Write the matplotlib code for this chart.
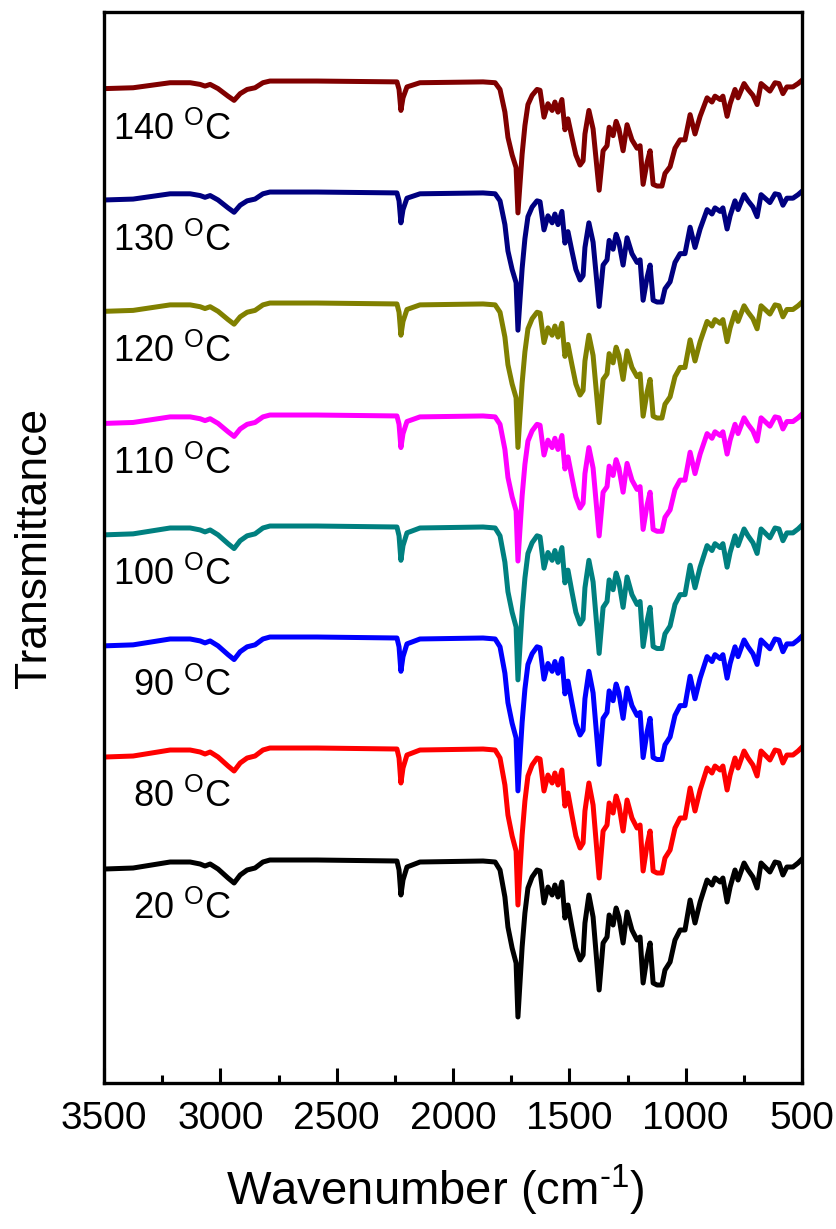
"""
FTIR spectra at different temperatures, stacked with a vertical offset.
"""

import numpy as np
import matplotlib
matplotlib.use("Agg")
import matplotlib.pyplot as plt
from matplotlib.ticker import MultipleLocator

# === DATA ===
# base spectrum (20 C sample); transmittance in arbitrary units
wavenumber = [3496, 3375, 3216, 3130, 3087, 3066, 3044, 3010, 2967, 2941, 2915, 2885,
              2851, 2817, 2787, 2585, 2241, 2232, 2224, 2215, 2198, 2142, 1871, 1819,
              1798, 1777, 1764, 1746, 1729, 1721, 1703, 1691, 1678, 1660, 1639, 1626,
              1609, 1592, 1574, 1562, 1549, 1532, 1519, 1506, 1489, 1472, 1454, 1441,
              1433, 1416, 1398, 1372, 1355, 1338, 1329, 1312, 1299, 1287, 1269, 1252,
              1231, 1209, 1196, 1183, 1166, 1153, 1140, 1123, 1102, 1089, 1067, 1046,
              1024, 1003, 981, 960, 938, 908, 887, 874, 852, 840, 822, 809, 788, 775,
              749, 732, 711, 693, 676, 659, 638, 616, 599, 582, 565, 539, 517, 504]
transmittance = [-9, -8, -2, -2, -4, -6, -4, -9, -18, -23, -15, -10,
                 -8, -2, 0, 0, -1, -10, -35, -20, -7, -2, -1, -2,
                 -10, -37, -67, -88, -103, -157, -87, -53, -28, -17, -10, -11,
                 -43, -27, -35, -25, -37, -22, -58, -45, -67, -88, -100, -95,
                 -63, -35, -57, -130, -83, -77, -55, -65, -48, -57, -83, -52,
                 -70, -80, -77, -123, -97, -83, -123, -125, -125, -110, -102, -80,
                 -70, -70, -40, -63, -42, -20, -25, -18, -22, -18, -42, -27, -10, -20,
                 -3, -10, -17, -28, -3, -7, -12, -2, -3, -15, -7, -7, -3, 0]

temps = [20, 80, 90, 100, 110, 120, 130, 140]
offsets = [0, 112, 223, 334, 445, 557, 668, 779]
depth_scale = [1.0, 1.0, 0.98, 0.98, 0.93, 0.92, 0.88, 0.84]
colors = ["#000000", "#FF0000", "#0000FF", "#008080",
          "#FF00FF", "#808000", "#000080", "#800000"]

# === STYLE ===
plt.rcParams["font.family"] = ["Liberation Sans", "DejaVu Sans"]
plt.rcParams["mathtext.fontset"] = "custom"
plt.rcParams["mathtext.rm"] = "Liberation Sans"
plt.rcParams["mathtext.it"] = "Liberation Sans:italic"

fig = plt.figure(figsize=(8.37, 12.29), dpi=100)
ax = fig.add_axes([0.1243, 0.1188, 0.8339, 0.8714])

wn = np.array(wavenumber)
tr = np.array(transmittance)
for t, off, s, c in zip(temps, offsets, depth_scale, colors):
    ax.plot(wn, off + s * tr, color=c, lw=3.6, solid_joinstyle="round")
    ax.text(2955, off - 49, f"{t} " + r"$^{\mathrm{O}}$C", ha="right", va="center",
            fontsize=26)

ax.set_xlim(3500, 500)
ax.set_ylim(-223, 848)

ax.xaxis.set_major_locator(MultipleLocator(500))
ax.xaxis.set_minor_locator(MultipleLocator(250))
ax.tick_params(axis="x", which="major", direction="in", length=11, width=2.2,
               labelsize=28, pad=13, top=False)
ax.tick_params(axis="x", which="minor", direction="in", length=6, width=2.2, top=False)
ax.tick_params(axis="y", left=False, labelleft=False, right=False)
for sp in ax.spines.values():
    sp.set_linewidth(2.4)

ax.set_xlabel(r"Wavenumber (cm$^{\text{-1}}$)", fontsize=34)
ax.xaxis.set_label_coords(0.474, -0.075)
ax.set_ylabel("Transmittance", fontsize=32, labelpad=35)

plt.savefig("out.png", dpi=100)
plt.close()
